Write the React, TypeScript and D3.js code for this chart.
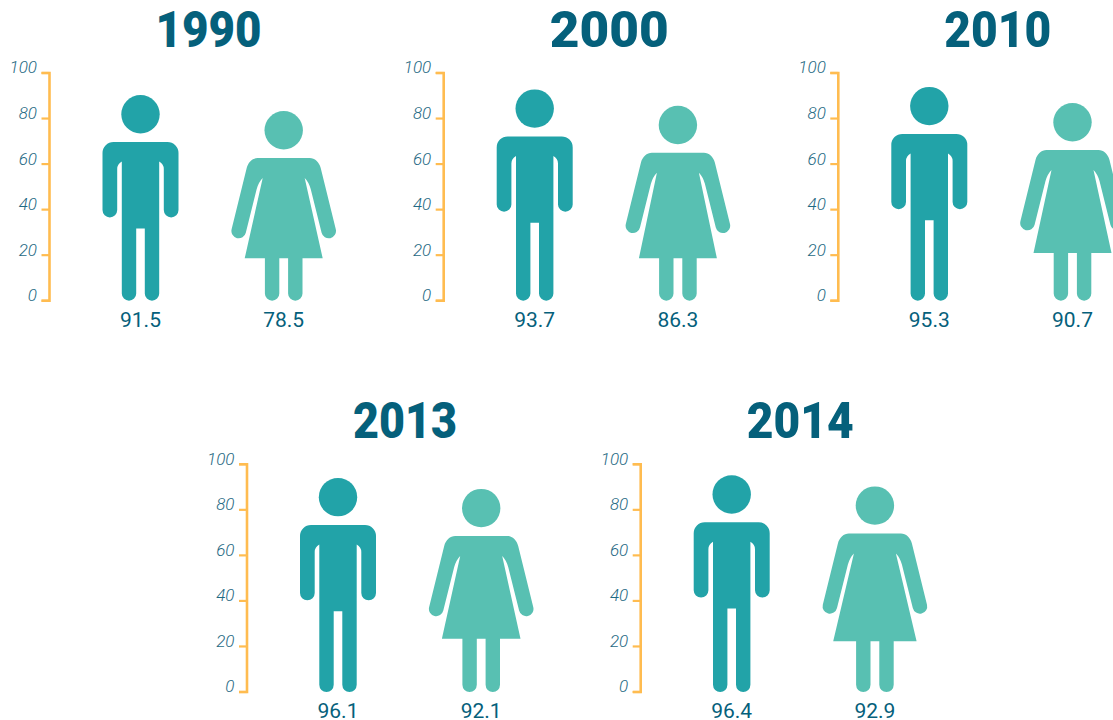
import React, { useEffect, useRef } from 'react'
import * as d3 from 'd3'

const years = ['1990', '2000', '2010', '2013', '2014']
const maleValues = ['91.5', '93.7', '95.3', '96.1', '96.4']
const femaleValues = ['78.5', '86.3', '90.7', '92.1', '92.9']
// where the figures reach on the 0-100 axis
const maleTops = [90.3, 92.8, 93.9, 94.0, 95.2]
const femaleTops = [83.3, 85.6, 86.8, 89.2, 90.3]
const femaleHems = [18.6, 18.6, 20.9, 23.4, 22.3]
const axisTicks = [0, 20, 40, 60, 80, 100]
const genders = ['male', 'female']

const panelX = [49.5, 443.7, 838.3, 247, 640.7]
const panelY = [0, 0, 0, 391.3, 391.3]
const titleWidth = [104, 117, 105, 102, 105]
const hemHalf = [39, 39, 39, 39.3, 41.7]

const MALE = '#22a3a8'
const FEMALE = '#58c0b2'
const DARK = '#05607b'
const ORANGE = '#ffbc50'
const HEAD_R = 19.2
const BODY_GAP = 47 // head top to shoulder top

const y = d3.scaleLinear().domain([0, 100]).range([300.7, 73])
const x = d3.scalePoint().domain(genders).range([91, 234.2])

// coordinates are relative to the middle of the shoulder line
const manPath = (top: number, foot: number) => {
  const f = foot - top
  return `M0,0 L-27,0 A11,11 0 0 0 -38,11 L-38,68 A7.35,7.35 0 0 0 -23.3,68 L-23.3,27 Q-23.3,22 -18.7,19.5
    L-18.7,${f - 7.2} A7.2,7.2 0 0 0 -4.3,${f - 7.2} L-4.3,86.3 L4.3,86.3 L4.3,${f - 7.2} A7.2,7.2 0 0 0 18.7,${f - 7.2}
    L18.7,19.5 Q23.3,22 23.3,27 L23.3,68 A7.35,7.35 0 0 0 38,68 L38,11 A11,11 0 0 0 27,0 Z`
}

const womanPath = (top: number, hem: number, foot: number, half: number) => {
  const f = foot - top
  const h = hem - top
  return `M0,0 L-26,0 C-31,0 -35.5,4 -37,10 L-52.1,71.3 A7.3,7.3 0 0 0 -37.9,74.7 L-27,31 Q-25,24 -21,20
    L${-half},${h} L-18.8,${h} L-18.8,${f - 7.2} A7.2,7.2 0 0 0 -4.4,${f - 7.2} L-4.4,${h} L4.4,${h} L4.4,${f - 7.2} A7.2,7.2 0 0 0 18.8,${f - 7.2} L18.8,${h} L${half},${h}
    L21,20 Q25,24 27,31 L37.9,74.7 A7.3,7.3 0 0 0 52.1,71.3 L37,10 C35.5,4 31,0 26,0 Z`
}

const drawAxis = (g: any) => {
  g.call(d3.axisLeft(y).tickValues(axisTicks).tickSize(8).tickPadding(4.5).offset(0))
  g.select('.domain').attr('stroke', ORANGE).attr('stroke-width', 2.6)
  g.selectAll('.tick line').attr('stroke', ORANGE).attr('stroke-width', 2.2)
  g.selectAll('.tick text')
    .attr('y', -5)
    .attr('dy', '0.32em')
    .attr('fill', '#1f6a84')
    .attr('font-family', 'Roboto')
    .attr('font-weight', 300)
    .attr('font-style', 'italic')
    .attr('font-size', 17)
}

export default function App() {
  const ref = useRef<SVGSVGElement>(null)

  useEffect(() => {
    const svg = d3.select(ref.current)
    svg.selectAll('*').remove()

    years.forEach((year, i) => {
      const g = svg.append('g').attr('transform', `translate(${panelX[i]},${panelY[i]})`)

      g.append('g').call(drawAxis)

      g.append('text')
        .text(year)
        .attr('x', 106)
        .attr('y', 47)
        .attr('fill', DARK)
        .attr('font-family', 'Roboto')
        .attr('font-weight', 900)
        .attr('font-size', 50)
        .attr('textLength', titleWidth[i] + 2)
        .attr('lengthAdjust', 'spacingAndGlyphs')

      genders.forEach((gender) => {
        const male = gender === 'male'
        const top = y(male ? maleTops[i] : femaleTops[i])
        const cx = x(gender) as number
        const fill = male ? MALE : FEMALE
        const shoulder = top + BODY_GAP

        g.append('circle')
          .attr('cx', cx)
          .attr('cy', top + HEAD_R)
          .attr('r', HEAD_R)
          .attr('fill', fill)

        g.append('path')
          .attr('transform', `translate(${cx},${shoulder})`)
          .attr('d', male ? manPath(shoulder, y(0)) : womanPath(shoulder, y(femaleHems[i]), y(0), hemHalf[i]))
          .attr('fill', fill)

        g.append('text')
          .text(male ? maleValues[i] : femaleValues[i])
          .attr('x', cx)
          .attr('y', 327)
          .attr('text-anchor', 'middle')
          .attr('fill', DARK)
          .attr('font-family', 'Roboto')
          .attr('font-weight', 400)
          .attr('font-size', 21)
      })
    })
  }, [])

  return (
    <svg
      ref={ref}
      width={1113}
      height={720}
      style={{ position: 'absolute', left: 0, top: 0, background: '#fff' }}
    />
  )
}
